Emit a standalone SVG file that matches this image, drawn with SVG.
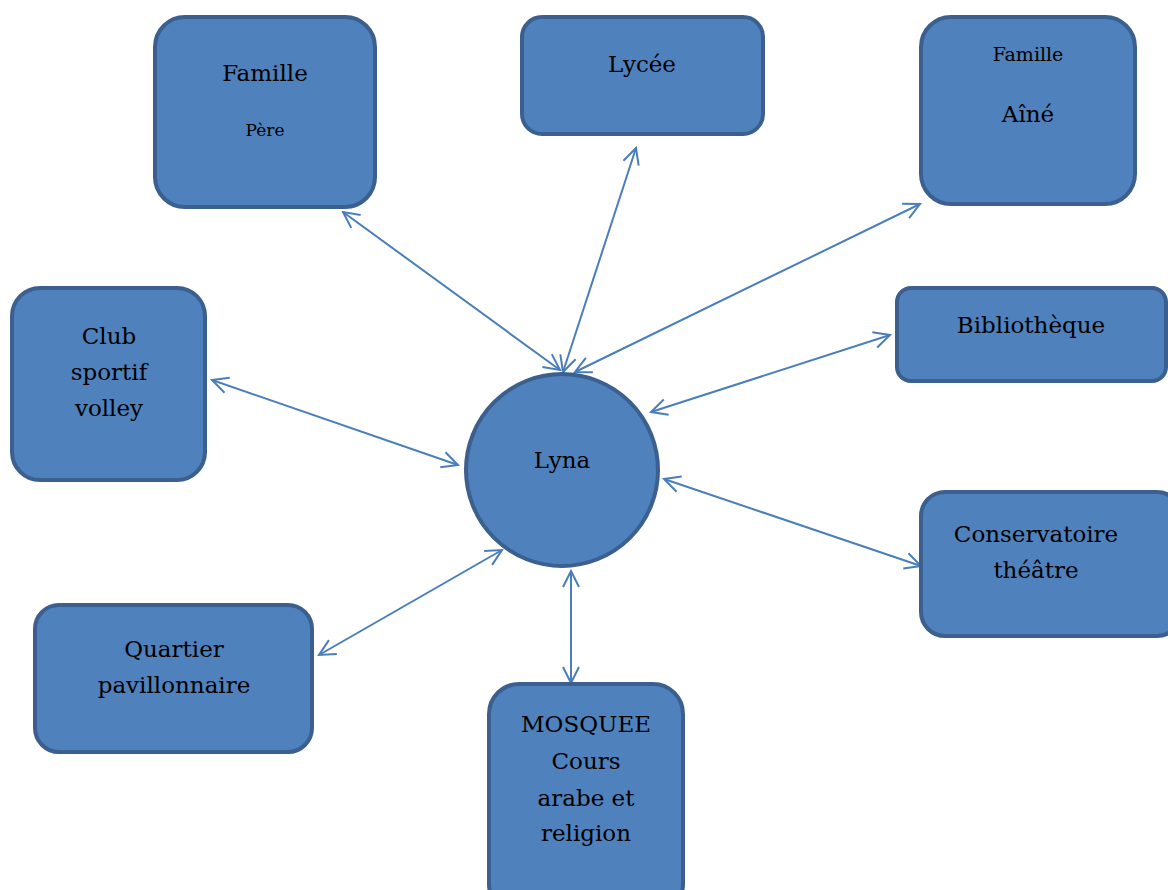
<svg xmlns="http://www.w3.org/2000/svg" width="1168" height="890" viewBox="0 0 1168 890">
<style>
.n{fill:#4f81bd;stroke:#3b5f8e;stroke-width:4}
.t{font-family:"DejaVu Serif","Liberation Serif",serif;font-size:23px;fill:#000;text-anchor:middle}
.s{font-size:17px}
.m{font-size:19px}
.c{stroke:#4a7ebb;stroke-width:2;fill:none;marker-start:url(#a);marker-end:url(#a)}
</style>
<defs>
<marker id="a" viewBox="0 0 20 20" refX="18" refY="10" markerWidth="20" markerHeight="20" markerUnits="userSpaceOnUse" orient="auto-start-reverse">
<path d="M2,2 L18,10 L2,18" fill="none" stroke="#4a7ebb" stroke-width="2"/>
</marker>
</defs>
<rect width="1168" height="890" fill="#fff"/>
<g id="connectors">
<line class="c" x1="343" y1="212" x2="560" y2="370"/>
<line class="c" x1="636" y1="148" x2="563" y2="372"/>
<line class="c" x1="920" y1="204" x2="575" y2="372"/>
<line class="c" x1="890" y1="335" x2="651" y2="412"/>
<line class="c" x1="212" y1="380" x2="458" y2="465"/>
<line class="c" x1="664" y1="479" x2="921" y2="566"/>
<line class="c" x1="319" y1="655" x2="502" y2="550"/>
<line class="c" x1="571" y1="571" x2="571" y2="683"/>
</g>
<g id="famille-pere">
<rect class="n" x="155" y="17" width="220" height="190" rx="30"/>
<text class="t" x="265" y="81">Famille</text>
<text class="t s" x="265" y="136">Père</text>
</g>
<g id="lycee">
<rect class="n" x="522" y="17" width="241" height="117" rx="20"/>
<text class="t" x="642" y="72">Lycée</text>
</g>
<g id="famille-aine">
<rect class="n" x="921" y="17" width="214" height="187" rx="30"/>
<text class="t m" x="1028" y="61">Famille</text>
<text class="t" x="1028" y="122">Aîné</text>
</g>
<g id="bibliotheque">
<rect class="n" x="897" y="288" width="269" height="93" rx="14"/>
<text class="t" x="1031" y="333">Bibliothèque</text>
</g>
<g id="club">
<rect class="n" x="12" y="288" width="193" height="192" rx="28"/>
<text class="t" x="109" y="344">Club</text>
<text class="t" x="109" y="380">sportif</text>
<text class="t" x="109" y="416">volley</text>
</g>
<g id="lyna">
<circle class="n" cx="562" cy="470" r="96"/>
<text class="t" x="562" y="468">Lyna</text>
</g>
<g id="conservatoire">
<rect class="n" x="921" y="492" width="260" height="144" rx="24"/>
<text class="t" x="1036" y="542">Conservatoire</text>
<text class="t" x="1036" y="578">théâtre</text>
</g>
<g id="quartier">
<rect class="n" x="35" y="605" width="277" height="147" rx="24"/>
<text class="t" x="174" y="657">Quartier</text>
<text class="t" x="174" y="693">pavillonnaire</text>
</g>
<g id="mosquee">
<rect class="n" x="489" y="684" width="194" height="230" rx="30"/>
<text class="t" x="586" y="732">MOSQUEE</text>
<text class="t" x="586" y="769">Cours</text>
<text class="t" x="586" y="806">arabe et</text>
<text class="t" x="586" y="841">religion</text>
</g>
</svg>
